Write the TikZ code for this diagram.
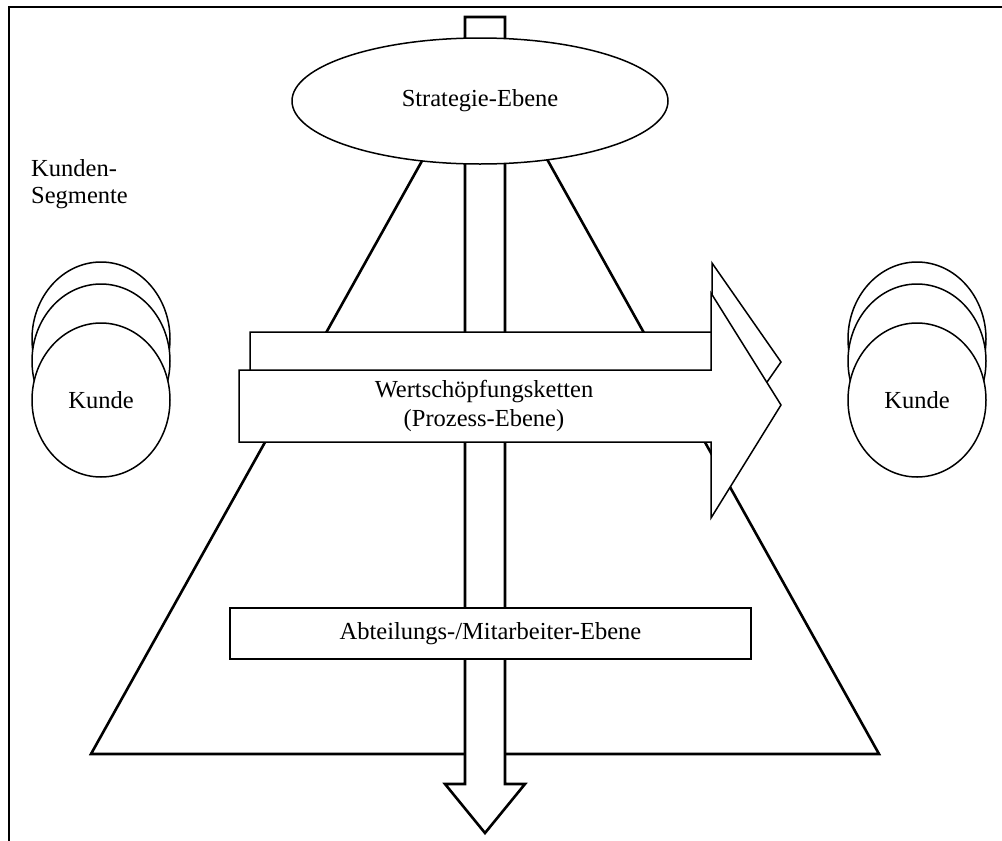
\documentclass[tikz,border=0pt]{standalone}
\usepackage{fontspec}
\setmainfont{Liberation Serif}
\usetikzlibrary{shapes.geometric}
\begin{document}
\begin{tikzpicture}[x=1pt,y=-1pt,line join=miter,
  boldline/.style={line width=2.6pt},
  fineline/.style={line width=1.5pt},
  lbl/.style={font=\fontsize{24.5}{29}\selectfont,inner sep=0pt,align=center},
  kunde/.style={ellipse,draw,fineline,fill=white,minimum width=138pt,minimum height=154pt,inner sep=0pt}]
\useasboundingbox (0,0) rectangle (1002,841);
% outer frame (top and left edge)
\draw[boldline] (9,841) -- (9,7) -- (1006,7);
% pyramid
\draw[boldline,fill=white] (485,48) -- (879,754) -- (91,754) -- cycle;
% vertical arrow through the pyramid
\draw[boldline,fill=white] (465,17) -- (505,17) -- (505,784) -- (525,784)
  -- (485,833) -- (445,784) -- (465,784) -- cycle;
% strategy level
\node[ellipse,draw,fineline,fill=white,minimum width=376pt,minimum height=126pt,lbl]
  (strategie) at (480,101) {Strategie-Ebene};
% customer segments
\node[lbl,align=left,anchor=west,font=\fontsize{24.5}{26.5}\selectfont]
  (segmente) at (31,184) {Kunden-\\Segmente};
\node[kunde] (kl3) at (101,339) {};
\node[kunde] (kl2) at (101,361) {};
\node[kunde,lbl] (kl1) at (101,400) {Kunde};
\node[kunde] (kr3) at (917,339) {};
\node[kunde] (kr2) at (917,361) {};
\node[kunde,lbl] (kr1) at (917,400) {Kunde};
% value chains (process level)
\draw[fineline,fill=white] (250,332) -- (712,332) -- (712,263) -- (781,362)
  -- (712,461) -- (712,392) -- (250,392) -- cycle;
\draw[fineline,fill=white] (239,370) -- (711,370) -- (711,293) -- (781,405)
  -- (711,518) -- (711,442) -- (239,442) -- cycle;
\node[lbl] (kette) at (484,406) {Wertschöpfungsketten\\(Prozess-Ebene)};
% department / employee level
\node[draw,fineline,fill=white,minimum width=521pt,minimum height=51pt,lbl]
  (abteilung) at (490.5,633.5) {Abteilungs-/Mitarbeiter-Ebene};
\end{tikzpicture}
\end{document}
